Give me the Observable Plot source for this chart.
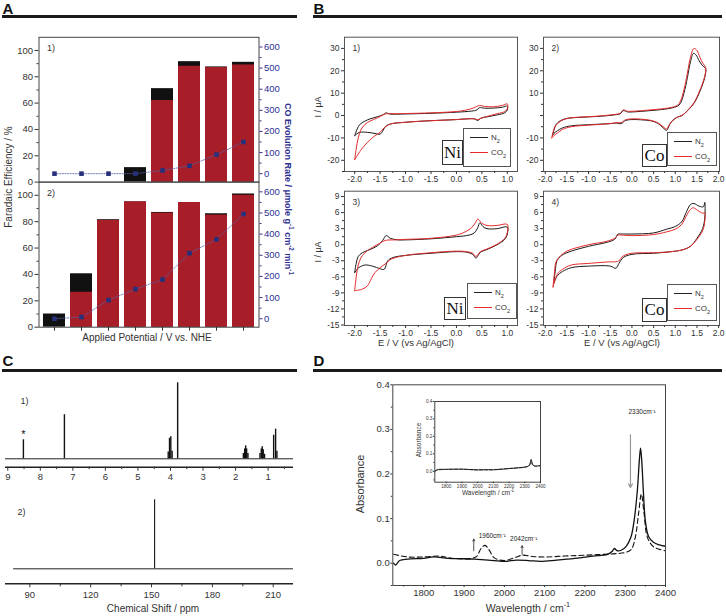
<!DOCTYPE html>
<html><head><meta charset="utf-8">
<script src="https://cdn.jsdelivr.net/npm/d3@7"></script>
<script src="https://cdn.jsdelivr.net/npm/@observablehq/plot@0.6"></script>
<style>
body{margin:0;background:#fff;}
#fig{position:relative;width:726px;height:616px;overflow:hidden;font-family:"Liberation Sans",Arial,Helvetica,sans-serif;color:#333;background:#fff;}
.lab{position:absolute;white-space:nowrap;line-height:1;}
.rule{position:absolute;height:3px;background:#1a1a1a;}
.leg{position:absolute;border:1px solid #555;background:#fff;box-sizing:border-box;}
.leg .ln{position:absolute;height:0;width:18px;}
.leg .tx{position:absolute;font-size:8px;line-height:1;transform:translateY(-50%);}
.el{position:absolute;border:1px solid #333;background:#fff;box-sizing:border-box;font-family:"Liberation Serif","DejaVu Serif",serif;font-size:17px;display:flex;align-items:center;justify-content:center;color:#111;}
sup,sub{font-size:70%;line-height:0;}
</style></head><body><div id="fig"></div>
<script>
// ---------------- DATA ----------------
// Panel A: 8 applied potentials (unlabelled in source)
const potentials = ["P1","P2","P3","P4","P5","P6","P7","P8"];
const feTotalTop = [0, 0, 0, 11, 71, 91.5, 87.5, 91];
const feCOTop    = [0, 0, 0, 0, 62, 88, 87, 89];
const rateTop    = [0, 0, 0, 0, 15, 37, 90, 150];
const feTotalBot = [10, 40.5, 81.5, 95, 87, 94.5, 86, 101];
const feCOBot    = [0, 26.5, 81, 95, 86.5, 94.5, 85, 100];
const rateBot    = [0, 8, 88, 140, 185, 310, 375, 495];
const feTicks = [0, 20, 40, 60, 80, 100];
const feMinor = [10, 30, 50, 70, 90];
const rateTicks = [0, 100, 200, 300, 400, 500, 600];
const rateMinor = [50, 150, 250, 350, 450, 550];

// Panel B: cyclic voltammograms [E (V), I (uA)]
const cv1N2 = [[-2.0,-9],[-1.95,-6],[-1.9,-4],[-1.8,-2.5],[-1.7,-1.5],[-1.55,-0.5],[-1.45,0.3],[-1.38,1.2],[-1.32,0.7],[-1.2,0.6],[-1.0,0.7],[-0.5,1.0],[0.0,1.5],[0.3,2.0],[0.4,2.5],[0.45,3.5],[0.55,3.3],[0.7,3.3],[0.9,3.7],[1.0,4.2],[1.0,2.5],[0.95,1.2],[0.8,0.3],[0.6,-0.6],[0.48,-1.2],[0.42,-2.2],[0.35,-1.5],[0.2,-1.5],[0.0,-1.8],[-0.5,-2.3],[-1.0,-3.0],[-1.3,-3.8],[-1.4,-5],[-1.45,-7],[-1.5,-8.3],[-1.6,-8],[-1.75,-7.5],[-1.9,-7.5],[-1.96,-8.2],[-2.0,-9]];
const cv1CO2 = [[-2.0,-19.7],[-1.97,-15],[-1.93,-10],[-1.88,-6.5],[-1.8,-4],[-1.7,-2.5],[-1.55,-1],[-1.45,0.2],[-1.38,0.8],[-1.2,0.8],[-1.0,0.9],[-0.5,1.2],[0.0,1.8],[0.2,2.5],[0.35,3.5],[0.45,4.5],[0.55,4.1],[0.7,3.9],[0.9,4.5],[1.0,5.2],[1.0,3],[0.95,1.8],[0.8,0.8],[0.6,-0.4],[0.48,-1.2],[0.42,-1.9],[0.35,-1.4],[0.2,-1.5],[0.0,-1.8],[-0.5,-2.3],[-1.0,-3.0],[-1.3,-3.8],[-1.42,-5.5],[-1.5,-7.5],[-1.6,-9],[-1.75,-12],[-1.88,-15.5],[-2.0,-19.7]];
const cv2N2 = [[-1.83,-8.8],[-1.8,-6.5],[-1.75,-4],[-1.65,-2.3],[-1.5,-1.3],[-1.2,-0.8],[-0.8,-0.4],[-0.4,0.3],[-0.27,0.8],[-0.2,2.2],[-0.1,1.6],[0.0,1.6],[0.3,2.0],[0.6,2.5],[0.9,3.3],[1.05,4.2],[1.12,5.5],[1.2,10],[1.28,17],[1.35,24],[1.42,27.8],[1.48,27],[1.55,24.5],[1.62,22.5],[1.7,21],[1.7,19],[1.65,15],[1.55,10],[1.45,6],[1.3,2.5],[1.15,0],[1.05,-0.7],[0.95,-2],[0.87,-4],[0.8,-6.6],[0.72,-5.5],[0.6,-3.5],[0.45,-2.4],[0.2,-1.9],[0.0,-1.8],[-0.15,-2.2],[-0.25,-3.6],[-0.35,-3.4],[-0.5,-3.6],[-1.0,-4.1],[-1.4,-4.6],[-1.6,-5.5],[-1.72,-6.8],[-1.8,-8],[-1.83,-8.8]];
const cv2CO2 = [[-1.85,-10],[-1.82,-7.5],[-1.76,-4.5],[-1.65,-2.6],[-1.5,-1.3],[-1.2,-0.7],[-0.8,-0.3],[-0.4,0.5],[-0.27,1],[-0.2,2.5],[-0.1,1.9],[0.0,1.9],[0.3,2.3],[0.6,2.8],[0.9,3.6],[1.05,4.6],[1.12,6.5],[1.2,11.5],[1.28,19],[1.35,26],[1.43,30],[1.5,29],[1.57,26],[1.63,23.5],[1.7,21.5],[1.7,19.5],[1.65,15.5],[1.55,10.5],[1.45,6.3],[1.3,2.6],[1.15,0],[1.05,-0.7],[0.95,-2],[0.87,-3.8],[0.8,-6],[0.72,-5],[0.6,-3.3],[0.45,-2.2],[0.2,-1.6],[0.0,-1.5],[-0.15,-1.9],[-0.25,-3.2],[-0.35,-3.2],[-0.5,-3.6],[-1.0,-4.3],[-1.4,-5],[-1.6,-6.2],[-1.72,-7.8],[-1.8,-9],[-1.85,-10]];
const cv3N2 = [[-2.0,-5.2],[-1.97,-3.5],[-1.93,-2.2],[-1.85,-1.5],[-1.7,-0.9],[-1.55,-0.2],[-1.45,0.8],[-1.38,1.7],[-1.3,1.2],[-1.15,0.9],[-1.0,0.9],[-0.5,1.1],[0.0,1.5],[0.25,1.8],[0.35,2.2],[0.42,3.2],[0.46,4.1],[0.52,3.4],[0.6,3.0],[0.8,3.0],[1.0,3.3],[1.0,2.0],[0.95,1.0],[0.8,0],[0.6,-0.9],[0.47,-1.4],[0.42,-2.1],[0.38,-2.5],[0.32,-1.8],[0.2,-1.4],[0.0,-1.3],[-0.5,-1.6],[-1.0,-2.0],[-1.25,-2.4],[-1.35,-3.0],[-1.42,-4.6],[-1.5,-4.5],[-1.65,-4.0],[-1.8,-3.8],[-1.92,-4.3],[-2.0,-5.2]];
const cv3CO2 = [[-2.0,-8.6],[-1.97,-6],[-1.93,-3.8],[-1.88,-2.5],[-1.8,-1.5],[-1.65,-0.5],[-1.5,0.3],[-1.4,0.8],[-1.2,0.9],[-1.0,1.0],[-0.5,1.2],[0.0,1.8],[0.15,2.3],[0.3,3.2],[0.38,4.2],[0.42,4.8],[0.5,4.0],[0.6,3.6],[0.8,3.6],[1.0,3.8],[1.0,2.3],[0.95,1.2],[0.8,0.1],[0.6,-0.8],[0.47,-1.3],[0.42,-1.9],[0.38,-2.2],[0.32,-1.6],[0.2,-1.3],[0.0,-1.2],[-0.5,-1.5],[-1.0,-2.0],[-1.28,-2.7],[-1.4,-3.6],[-1.5,-4.3],[-1.6,-5.2],[-1.67,-6.3],[-1.75,-7.7],[-1.85,-8.3],[-2.0,-8.6]];
const cv4N2 = [[-1.8,-7.1],[-1.77,-5],[-1.73,-3],[-1.65,-2.2],[-1.5,-1.5],[-1.0,-0.3],[-0.6,0.4],[-0.4,1.0],[-0.32,2.0],[-0.25,2.0],[0.0,2.0],[0.5,2.2],[0.8,2.9],[1.0,3.4],[1.15,4.3],[1.25,6],[1.35,7.5],[1.43,7.7],[1.55,7.2],[1.65,7.1],[1.68,7.9],[1.68,5],[1.63,3],[1.5,1.2],[1.35,-0.3],[1.15,-1.0],[0.9,-1.3],[0.5,-1.6],[0.0,-1.8],[-0.2,-2.4],[-0.3,-3.5],[-0.37,-4.4],[-0.5,-4.0],[-1.0,-4.0],[-1.4,-4.3],[-1.6,-5.0],[-1.72,-5.8],[-1.8,-7.1]];
const cv4CO2 = [[-1.82,-7.9],[-1.79,-5.5],[-1.75,-3.2],[-1.65,-2.1],[-1.5,-1.2],[-1.0,0],[-0.6,0.6],[-0.4,1.2],[-0.32,1.8],[-0.25,1.8],[0.0,1.7],[0.5,1.9],[0.8,2.4],[1.0,2.9],[1.15,3.8],[1.25,5.3],[1.35,6.6],[1.42,6.9],[1.55,6.2],[1.65,5.9],[1.68,6.1],[1.68,4.3],[1.63,2.6],[1.5,1.0],[1.35,-0.3],[1.15,-1.0],[0.9,-1.3],[0.5,-1.5],[0.0,-1.6],[-0.2,-2.1],[-0.3,-3.0],[-0.37,-3.2],[-0.5,-3.2],[-1.0,-3.5],[-1.4,-3.8],[-1.6,-4.6],[-1.72,-5.5],[-1.82,-7.9]];
const cvXTicksNi = [-2, -1.5, -1, -0.5, 0, 0.5, 1];
const cvXLabelsNi = ["-2.0","-1.5","-1.0","-1.5","0.0","0.5","1.0"];
const cvXTicksCo = [-2, -1.5, -1, -0.5, 0, 0.5, 1, 1.5, 2];
const cvXLabelsCo = ["-2.0","-1.5","-1.0","-1.5","0.0","0.5","1.0","1.5","2.0"];
const cvYTicksTop = [-20, -10, 0, 10, 20, 30];
const cvYTicksBot = [-15, -12, -9, -6, -3, 0, 3, 6, 9];

// Panel C: NMR peaks
const h1Ppm = [8.52, 7.26, 4.07, 4.03, 3.99, 3.95, 3.78, 1.76, 1.72, 1.69, 1.66, 1.62, 1.25, 1.21, 1.18, 1.15, 1.11, 0.83, 0.77, 0.73];
const h1Int = [25, 58, 9, 27, 29, 10, 100, 7, 13, 17, 13, 7, 7, 13, 16, 12, 6, 31, 39, 10];
const h1Ticks = [9, 8, 7, 6, 5, 4, 3, 2, 1];
const h1Minor = [8.5, 7.5, 6.5, 5.5, 4.5, 3.5, 2.5, 1.5, 0.5];
const c13Ppm = [151.5];
const c13Int = [100];
const c13Range = [82, 220];
const c13Ticks = [90, 120, 150, 180, 210];
const c13Minor = [105, 135, 165, 195];

// Panel D: IR spectra [wavenumber, absorbance]
const irSolid = [[1725,0.0],[1730,-0.004],[1740,0.006],[1760,0.009],[1800,0.011],[1825,0.014],[1860,0.011],[1900,0.01],[1925,0.009],[1960,0.007],[2000,0.004],[2030,0.007],[2060,0.006],[2090,0.004],[2130,0.007],[2175,0.011],[2220,0.016],[2256,0.02],[2268,0.027],[2273,0.033],[2280,0.028],[2290,0.029],[2302,0.037],[2314,0.058],[2322,0.095],[2330,0.162],[2335,0.23],[2338,0.258],[2341,0.23],[2345,0.162],[2350,0.095],[2358,0.06],[2370,0.047],[2385,0.041],[2400,0.038]];
const irDashed = [[1725,0.02],[1760,0.014],[1800,0.014],[1840,0.016],[1870,0.011],[1920,0.011],[1932,0.016],[1942,0.033],[1952,0.04],[1962,0.03],[1975,0.012],[2000,0.006],[2030,0.014],[2045,0.018],[2070,0.015],[2100,0.014],[2150,0.016],[2200,0.018],[2270,0.021],[2300,0.024],[2315,0.031],[2325,0.058],[2333,0.11],[2340,0.155],[2347,0.11],[2355,0.058],[2370,0.037],[2385,0.031],[2400,0.028]];
const insetSolid = [[1727,-0.004],[1735,0.005],[1750,0.01],[1800,0.011],[1900,0.012],[1950,0.01],[2000,0.008],[2050,0.009],[2100,0.008],[2150,0.011],[2200,0.015],[2250,0.019],[2300,0.024],[2320,0.028],[2332,0.04],[2340,0.068],[2348,0.045],[2355,0.033],[2370,0.03],[2400,0.033]];
const insetDashed = [[1727,0.0],[1740,0.006],[1800,0.01],[1900,0.011],[2000,0.007],[2100,0.009],[2200,0.016],[2300,0.023],[2330,0.033],[2340,0.055],[2350,0.035],[2370,0.028],[2400,0.031]];
const irXTicks = [1800, 1900, 2000, 2100, 2200, 2300, 2400];
const irXMinor = [1750, 1850, 1950, 2050, 2150, 2250, 2350];
const irYTicks = [0, 0.1, 0.2, 0.3, 0.4];
const irYMinor = [-0.05, 0.05, 0.15, 0.25, 0.35];
const irArrowDown = [{x: 2313, from: 0.288, to: 0.17}];
const irArrowsUp = [{x: 1924, from: 0.028, to: 0.054}, {x: 2044, from: 0.02, to: 0.039}];
const irNotes = [{x: 2342, y: 0.34, t: "2330cm⁻¹"}, {x: 1970, y: 0.061, t: "1960cm⁻¹"}, {x: 2048, y: 0.054, t: "2042cm⁻¹"}];

// ---------------- HELPERS ----------------
const W = 726, H = 616;
const fig = document.getElementById("fig");
const FONT = '"Liberation Sans", Arial, Helvetica, sans-serif';
const RED = "#a81e28", NAVY = "#27307a", BLUE = "#2e3192", CVRED = "#e52a2a";

function addPlot(opts, color = "#333") {
  const svg = Plot.plot({
    width: W, height: H, ...opts,
    style: `position:absolute;left:0;top:0;background:transparent;overflow:visible;font-family:${FONT};font-size:9px;color:${color};`
  });
  fig.appendChild(svg);
}
function label(html, x, y, o = {}) {
  const d = document.createElement("div");
  d.className = "lab";
  d.innerHTML = html;
  d.style.left = x + "px"; d.style.top = y + "px";
  d.style.fontSize = (o.size || 10) + "px";
  d.style.fontWeight = o.weight || "normal";
  d.style.color = o.color || "#333";
  d.style.transform = `translate(-50%,-50%) rotate(${o.rot || 0}deg)`;
  fig.appendChild(d);
}
function rule(x, y, w) {
  const d = document.createElement("div");
  d.className = "rule";
  d.style.left = x + "px"; d.style.top = y + "px"; d.style.width = w + "px";
  fig.appendChild(d);
}
function legend(l, t, w, h) {
  const d = document.createElement("div");
  d.className = "leg";
  d.style.left = l + "px"; d.style.top = t + "px"; d.style.width = w + "px"; d.style.height = h + "px";
  d.innerHTML = `<div class="ln" style="left:6px;top:7.5px;border-top:1.3px solid #222"></div><div class="tx" style="left:27px;top:8.5px">N<sub>2</sub></div>
  <div class="ln" style="left:6px;top:22.5px;border-top:1.3px solid ${CVRED}"></div><div class="tx" style="left:27px;top:23.5px">CO<sub>2</sub></div>`;
  fig.appendChild(d);
}
function elBox(txt, l, t, w, h) {
  const d = document.createElement("div");
  d.className = "el";
  d.style.left = l + "px"; d.style.top = t + "px"; d.style.width = w + "px"; d.style.height = h + "px";
  d.textContent = txt;
  fig.appendChild(d);
}
const blank = () => "";
const plain = d => String(d);

// ---------------- PANEL A ----------------
function barPanel(top, bottom, total, co, rate, tag, showX) {
  const rows = potentials.map((p, i) => ({p, total: total[i], co: co[i], rate: rate[i]}));
  addPlot({
    marginLeft: 38.5, marginRight: W - 258.5, marginTop: top, marginBottom: H - bottom,
    x: {type: "band", domain: potentials, paddingInner: 0.17, paddingOuter: 0.1, axis: null},
    y: {domain: [0, 110], axis: null},
    marks: [
      Plot.barY(rows, {x: "p", y: "total", fill: "#111"}),
      Plot.barY(rows, {x: "p", y: "co", fill: RED}),
      Plot.frame({stroke: "#444"}),
      Plot.axisY(feTicks, {anchor: "left", tickSize: 4, tickPadding: 2, fontSize: 9.5, label: null}),
      Plot.axisY(feMinor, {anchor: "left", tickSize: 2, tickFormat: blank, label: null}),
      ...(showX ? [Plot.axisX({anchor: "bottom", tickSize: 4, tickFormat: blank, label: null})] : []),
      Plot.text([tag], {frameAnchor: "top-left", dx: 8, dy: 11, lineAnchor: "middle", textAnchor: "start", fontSize: 9})
    ]
  });
  addPlot({
    marginLeft: 38.5, marginRight: W - 258.5, marginTop: top, marginBottom: H - bottom,
    x: {type: "point", domain: potentials, padding: 0.515, axis: null},
    y: {domain: [-40, 646], axis: null},
    marks: [
      Plot.line(rows, {x: "p", y: "rate", stroke: "#5560a8", strokeWidth: 0.8, strokeDasharray: "1.2,1.4"}),
      Plot.dot(rows, {x: "p", y: "rate", symbol: "square", r: 2.6, fill: NAVY, stroke: "none"}),
      Plot.axisY(rateTicks, {anchor: "right", tickSize: 3, tickPadding: 2, fontSize: 9.5, label: null}),
      Plot.axisY(rateMinor, {anchor: "right", tickSize: 2, tickFormat: blank, label: null})
    ]
  }, BLUE);
}
barPanel(36.8, 181.6, feTotalTop, feCOTop, rateTop, "1)", false);
barPanel(181.6, 326.7, feTotalBot, feCOBot, rateBot, "2)", true);

// ---------------- PANEL B ----------------
function cvPlot(o) {
  const [l, r, t, b] = o.frame;
  addPlot({
    marginLeft: l, marginRight: W - r, marginTop: t, marginBottom: H - b,
    x: {domain: o.xDomain, axis: null}, y: {domain: o.yDomain, axis: null},
    marks: [
      Plot.line(o.n2, {x: d => d[0], y: d => d[1], stroke: "#1a1a1a", strokeWidth: 1, curve: "catmull-rom"}),
      Plot.line(o.co2, {x: d => d[0], y: d => d[1], stroke: CVRED, strokeWidth: 1, curve: "catmull-rom"}),
      Plot.frame({stroke: "#555"}),
      Plot.axisX(o.xTicks, {anchor: "bottom", tickSize: 3, tickPadding: 1, fontSize: 8.5, label: null,
        tickFormat: d => o.xLabels[o.xTicks.indexOf(d)]}),
      Plot.axisX(o.xTicks.map(v => v + 0.25).filter(v => v < o.xDomain[1]), {anchor: "bottom", tickSize: 2, tickFormat: blank, label: null}),
      Plot.axisY(o.yTicks, {anchor: "left", tickSize: 3, tickPadding: 2, fontSize: 8.5, label: null,
        tickFormat: d => (o.hideY && o.hideY.includes(d)) ? "" : String(d)}),
      Plot.axisY(o.yMinor, {anchor: "left", tickSize: 2, tickFormat: blank, label: null}),
      Plot.text([o.tag], {frameAnchor: "top-left", dx: 8, dy: 11, lineAnchor: "middle", textAnchor: "start", fontSize: 8.5})
    ]
  });
}
cvPlot({frame: [344, 517, 36.7, 171], xDomain: [-2.2, 1.2], yDomain: [-25, 35], xTicks: cvXTicksNi, xLabels: cvXLabelsNi,
  yTicks: cvYTicksTop, yMinor: [-25, -15, -5, 5, 15, 25], n2: cv1N2, co2: cv1CO2, tag: "1)"});
cvPlot({frame: [543, 719, 36.7, 171], xDomain: [-2.04, 2.02], yDomain: [-25, 35], xTicks: cvXTicksCo, xLabels: cvXLabelsCo,
  yTicks: cvYTicksTop, hideY: [0], yMinor: [-25, -15, -5, 5, 15, 25], n2: cv2N2, co2: cv2CO2, tag: "2)"});
cvPlot({frame: [344, 517, 190.7, 325], xDomain: [-2.2, 1.2], yDomain: [-15.1, 10], xTicks: cvXTicksNi, xLabels: cvXLabelsNi,
  yTicks: cvYTicksBot, yMinor: [-13.5, -10.5, -7.5, -4.5, -1.5, 1.5, 4.5, 7.5], n2: cv3N2, co2: cv3CO2, tag: "3)"});
cvPlot({frame: [543, 719, 190.7, 325], xDomain: [-2.04, 2.02], yDomain: [-15.1, 10], xTicks: cvXTicksCo, xLabels: cvXLabelsCo,
  yTicks: cvYTicksBot, yMinor: [-13.5, -10.5, -7.5, -4.5, -1.5, 1.5, 4.5, 7.5], n2: cv4N2, co2: cv4CO2, tag: "4)"});

// ---------------- PANEL C ----------------
const h1Rows = h1Ppm.map((ppm, i) => ({ppm, h: h1Int[i]}));
addPlot({
  marginLeft: 5, marginRight: W - 293, marginTop: 382.3, marginBottom: H - 466.7,
  x: {domain: [9.07, 0.22], axis: null}, y: {domain: [-11.05, 100], axis: null},
  marks: [
    Plot.ruleY([0], {stroke: "#222", strokeWidth: 1}),
    Plot.ruleX(h1Rows, {x: "ppm", y1: 0, y2: "h", stroke: "#111", strokeWidth: 1.4}),
    Plot.text([h1Rows[0]], {x: "ppm", y: "h", text: () => "*", dy: -2, lineAnchor: "bottom", fontSize: 11, fill: "#111"}),
    Plot.ruleY([-11.05], {stroke: "#222", strokeWidth: 1.4}),
    Plot.axisX(h1Ticks, {anchor: "bottom", tickSize: 4, tickPadding: 2, fontSize: 9.5, label: null, tickFormat: plain}),
    Plot.axisX(h1Minor, {anchor: "bottom", tickSize: 2.5, tickFormat: blank, label: null}),
    Plot.text(["1)"], {frameAnchor: "top-left", dx: 15, dy: 18, lineAnchor: "middle", textAnchor: "start", fontSize: 9})
  ]
});
const c13Rows = c13Ppm.map((ppm, i) => ({ppm, h: c13Int[i]}));
addPlot({
  marginLeft: 5, marginRight: W - 293, marginTop: 499.3, marginBottom: H - 583.3,
  x: {domain: [78, 220], axis: null}, y: {domain: [-21.7, 100], axis: null},
  marks: [
    Plot.ruleY([{y: 0, a: c13Range[0], b: c13Range[1]}], {y: "y", x1: "a", x2: "b", stroke: "#222", strokeWidth: 1}),
    Plot.ruleX(c13Rows, {x: "ppm", y1: 0, y2: "h", stroke: "#222", strokeWidth: 1.2}),
    Plot.ruleY([-21.7], {stroke: "#222", strokeWidth: 1.4}),
    Plot.axisX(c13Ticks, {anchor: "bottom", tickSize: 4, tickPadding: 3, fontSize: 9.5, label: null, tickFormat: plain}),
    Plot.axisX(c13Minor, {anchor: "bottom", tickSize: 3, tickFormat: blank, label: null}),
    Plot.text(["2)"], {frameAnchor: "top-left", dx: 12, dy: 12, lineAnchor: "middle", textAnchor: "start", fontSize: 9})
  ]
});

// ---------------- PANEL D ----------------
addPlot({
  marginLeft: 392.3, marginRight: W - 665, marginTop: 384.3, marginBottom: H - 585,
  x: {domain: [1723, 2400], axis: null}, y: {domain: [-0.05, 0.4], axis: null},
  marks: [
    Plot.line(irDashed, {x: d => d[0], y: d => d[1], stroke: "#111", strokeWidth: 1.1, strokeDasharray: "5,3", curve: "catmull-rom"}),
    Plot.line(irSolid, {x: d => d[0], y: d => d[1], stroke: "#111", strokeWidth: 1.3, curve: "catmull-rom"}),
    Plot.arrow(irArrowDown, {x1: "x", x2: "x", y1: "from", y2: "to", stroke: "#999", strokeWidth: 1.2, headLength: 5}),
    Plot.arrow(irArrowsUp, {x1: "x", x2: "x", y1: "from", y2: "to", stroke: "#222", strokeWidth: 0.8, headLength: 4}),
    Plot.text(irNotes, {x: "x", y: "y", text: "t", fontSize: 6.5, fill: "#222"}),
    Plot.frame({stroke: "#444"}),
    Plot.axisX(irXTicks, {anchor: "bottom", tickSize: 2, tickPadding: 2, fontSize: 9.5, label: null, tickFormat: plain}),
    Plot.axisX(irXMinor, {anchor: "bottom", tickSize: 1.5, tickFormat: blank, label: null}),
    Plot.axisY(irYTicks, {anchor: "left", tickSize: 2, tickPadding: 1, fontSize: 9.5, label: null, tickFormat: d => d.toFixed(1)}),
    Plot.axisY(irYMinor, {anchor: "left", tickSize: 1.5, tickFormat: blank, label: null})
  ]
});
addPlot({
  marginLeft: 434.3, marginRight: W - 540, marginTop: 401, marginBottom: H - 481.7,
  x: {domain: [1727, 2400], axis: null}, y: {domain: [-0.063, 0.4], axis: null},
  marks: [
    Plot.line(insetDashed, {x: d => d[0], y: d => d[1], stroke: "#222", strokeWidth: 0.8, strokeDasharray: "3,2", curve: "catmull-rom"}),
    Plot.line(insetSolid, {x: d => d[0], y: d => d[1], stroke: "#111", strokeWidth: 0.9, curve: "catmull-rom"}),
    Plot.frame({stroke: "#444"}),
    Plot.axisX(irXTicks, {anchor: "bottom", tickSize: 1.5, tickPadding: 1, fontSize: 4.6, label: null, tickFormat: plain}),
    Plot.axisY(irYTicks, {anchor: "left", tickSize: 1.5, tickPadding: 1, fontSize: 4.6, label: null, tickFormat: d => d.toFixed(1)}),
    Plot.axisY(irYMinor, {anchor: "left", tickSize: 1, tickFormat: blank, label: null})
  ]
});

// ---------------- HTML TEXT / LAYOUT ----------------
label("A", 8, 8, {size: 15, weight: "bold", color: "#111"});
label("B", 319, 8, {size: 15, weight: "bold", color: "#111"});
label("C", 8, 360, {size: 15, weight: "bold", color: "#111"});
label("D", 319, 360, {size: 15, weight: "bold", color: "#111"});
rule(2, 15, 295); rule(313, 15, 409); rule(2, 368.5, 295); rule(313, 368.5, 409);

label("Faradaic Efficiency / %", 9, 177, {size: 10, rot: -90});
label("CO Evolution Rate / μmole g<sup>-1</sup> cm<sup>-2</sup> min<sup>-1</sup>", 287, 189, {size: 9, rot: 90, weight: "bold", color: BLUE});
label("Applied Potential / V vs. NHE", 147, 338, {size: 10});

label("I / μA", 318, 107, {size: 9, rot: -90});
label("I / μA", 318, 252, {size: 9, rot: -90});
label("E / V (vs Ag/AgCl)", 416, 343, {size: 9.5});
label("E / V (vs Ag/AgCl)", 622, 343, {size: 9.5});
legend(463, 128, 48, 39); elBox("Ni", 442, 140, 21, 25);
legend(667, 132, 50, 34); elBox("Co", 642, 144, 25, 23);
legend(467, 283, 50, 36); elBox("Ni", 444, 297, 22, 23);
legend(667, 284, 50, 37); elBox("Co", 642, 298, 25, 24);

label("Chemical Shift / ppm", 153, 609, {size: 10});

label("Absorbance", 360, 484, {size: 11, rot: -90});
label("Wavelength / cm<sup>-1</sup>", 528, 608, {size: 10.5});
label("Absorbance", 419, 440, {size: 6.5, rot: -90});
label("Wavelength / cm<sup>-1</sup>", 488, 493, {size: 6.5});
</script></body></html>
